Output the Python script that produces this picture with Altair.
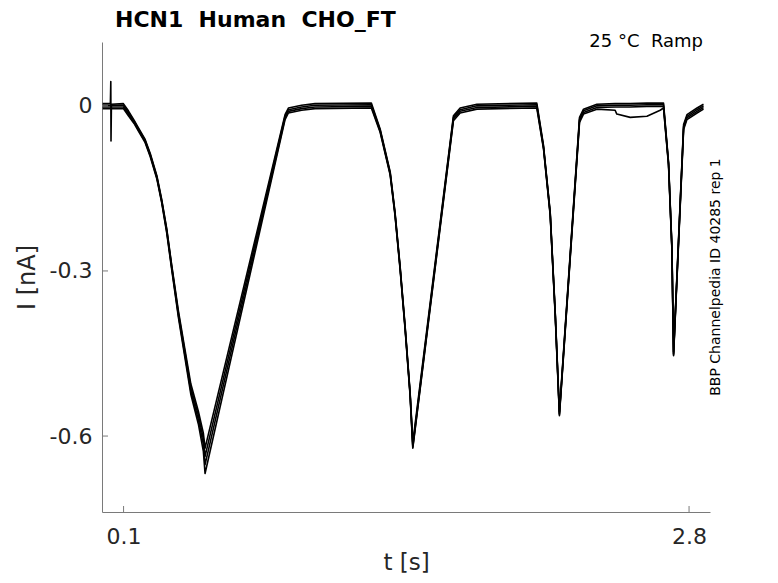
import altair as alt
import pandas as pd

# ---- data (time in s, current in nA) ----
T = [0.000, 0.037, 0.039, 0.040, 0.042, 0.099, 0.123, 0.150, 0.171, 0.203,
     0.227, 0.259, 0.282, 0.306, 0.330, 0.362, 0.394, 0.421, 0.457, 0.481,
     0.489, 0.871, 0.887, 0.950, 1.014, 1.283, 1.325, 1.373, 1.396, 1.420,
     1.444, 1.468, 1.481, 1.675, 1.707, 1.787, 2.073, 2.105, 2.137, 2.161,
     2.181, 2.277, 2.296, 2.360, 2.447, 2.455, 2.519, 2.599, 2.662, 2.678,
     2.702, 2.718, 2.726, 2.774, 2.790, 2.838, 2.869]

sweep_a = [0.004, 0.004, 0.044, -0.064, 0.003, 0.004, -0.009, -0.026, -0.040, -0.061,
           -0.086, -0.127, -0.170, -0.223, -0.290, -0.373, -0.445, -0.505, -0.555, -0.595,
           -0.622, -0.016, -0.004, 0.001, 0.004, 0.005, -0.042, -0.120, -0.193, -0.290,
           -0.399, -0.520, -0.612, -0.018, -0.004, 0.003, 0.005, -0.072, -0.193, -0.375,
           -0.556, -0.021, -0.006, 0.003, 0.004, 0.004, 0.004, 0.005, 0.005, 0.005,
           -0.102, -0.254, -0.447, -0.034, -0.016, -0.004, 0.003]

sweep_b = [0.001, 0.001, 0.001, 0.001, 0.001, 0.001, -0.012, -0.028, -0.042, -0.063,
           -0.088, -0.129, -0.172, -0.225, -0.292, -0.377, -0.450, -0.512, -0.562, -0.605,
           -0.637, -0.019, -0.007, -0.002, 0.001, 0.002, -0.044, -0.122, -0.195, -0.292,
           -0.401, -0.522, -0.617, -0.021, -0.007, 0.000, 0.002, -0.074, -0.195, -0.377,
           -0.559, -0.024, -0.009, 0.000, 0.001, 0.001, 0.001, 0.002, 0.002, 0.002,
           -0.104, -0.256, -0.450, -0.037, -0.019, -0.007, 0.000]

sweep_c = [-0.002, -0.002, -0.002, -0.002, -0.002, -0.002, -0.015, -0.030, -0.044, -0.065,
           -0.090, -0.131, -0.174, -0.228, -0.295, -0.381, -0.455, -0.518, -0.570, -0.615,
           -0.652, -0.022, -0.010, -0.005, -0.002, -0.001, -0.046, -0.124, -0.197, -0.294,
           -0.403, -0.524, -0.620, -0.024, -0.010, -0.003, -0.001, -0.076, -0.197, -0.379,
           -0.561, -0.027, -0.012, -0.003, -0.002, -0.002, -0.002, -0.001, -0.001, -0.001,
           -0.106, -0.258, -0.452, -0.040, -0.022, -0.010, -0.003]

sweep_d = [-0.005, -0.005, -0.005, -0.005, -0.005, -0.005, -0.018, -0.032, -0.046, -0.067,
           -0.092, -0.133, -0.176, -0.231, -0.298, -0.385, -0.460, -0.524, -0.578, -0.628,
           -0.668, -0.025, -0.013, -0.008, -0.005, -0.004, -0.048, -0.126, -0.199, -0.296,
           -0.405, -0.526, -0.622, -0.027, -0.013, -0.006, -0.004, -0.078, -0.199, -0.381,
           -0.563, -0.030, -0.015, -0.006, -0.008, -0.015, -0.021, -0.019, -0.008, -0.004,
           -0.108, -0.260, -0.454, -0.043, -0.025, -0.013, -0.006]

sweeps = {"1": sweep_a, "2": sweep_b, "3": sweep_c, "4": sweep_d}

y_ticks = [0, -0.3, -0.6]
x_ticks = [0.1, 2.8]

NB = "\u00a0"
title_text = "HCN1" + NB + " Human" + NB + " CHO_FT"
cond_text = "25 °C" + NB + " Ramp"
id_text = "BBP Channelpedia ID 40285 rep 1"

# ---- build table ----
rows = []
for name, vals in sweeps.items():
    for t, v in zip(T, vals):
        rows.append({"t": t, "I": v, "sweep": name})
df = pd.DataFrame(rows)

FONT = "DejaVu Sans"
AXIS_GRAY = "#7a7a7a"
TXT = "#262626"

xscale = alt.Scale(domain=[-0.003, 2.9], nice=False, zero=False)
yscale = alt.Scale(domain=[-0.738, 0.116], nice=False, zero=False)

xaxis = alt.Axis(values=x_ticks, title="t [s]",
                 labelExpr="format(datum.value, '.1f')")
yaxis = alt.Axis(values=y_ticks, title="I [nA]",
                 labelExpr="datum.value == 0 ? '0' : '-' + format(abs(datum.value), '.1f')")

lines = alt.Chart(df).mark_line(color="black", strokeWidth=1.6, clip=True,
                                strokeJoin="round").encode(
    x=alt.X("t:Q", scale=xscale, axis=xaxis),
    y=alt.Y("I:Q", scale=yscale, axis=yaxis),
    detail="sweep:N",
)

ytick_df = pd.DataFrame({"I": y_ticks})
yticks = alt.Chart(ytick_df).mark_rule(color=AXIS_GRAY, strokeWidth=1).encode(
    y=alt.Y("I:Q", scale=yscale, axis=yaxis),
    x=alt.value(0), x2=alt.value(6),
)

xtick_df = pd.DataFrame({"t": x_ticks})
xticks = alt.Chart(xtick_df).mark_rule(color=AXIS_GRAY, strokeWidth=1).encode(
    x=alt.X("t:Q", scale=xscale, axis=xaxis),
    y=alt.value(470), y2=alt.value(464),
)

title = alt.Chart(pd.DataFrame({"label": [title_text]})).mark_text(
    align="left", baseline="alphabetic", font=FONT, fontSize=22,
    fontWeight="bold", color="black"
).encode(text="label:N", x=alt.value(13), y=alt.value(-15))

cond = alt.Chart(pd.DataFrame({"label": [cond_text]})).mark_text(
    align="right", baseline="alphabetic", font=FONT, fontSize=18, color="black"
).encode(text="label:N", x=alt.value(601), y=alt.value(5))

ident = alt.Chart(pd.DataFrame({"label": [id_text]})).mark_text(
    align="center", baseline="middle", angle=270, font=FONT, fontSize=14, color="black"
).encode(text="label:N", x=alt.value(614), y=alt.value(235))

chart = alt.layer(lines, yticks, xticks, title, cond, ident).properties(
    width=608, height=470,
    autosize=alt.AutoSizeParams(type="none"),
    padding={"left": 94, "top": 34, "right": 60, "bottom": 63},
).configure_view(stroke=None).configure_axis(
    grid=False, ticks=False, domainColor=AXIS_GRAY, domainWidth=1,
    labelFont=FONT, labelFontSize=22, labelColor=TXT,
    titleFont=FONT, titleFontSize=24, titleFontWeight="normal", titleColor=TXT,
).configure_axisX(labelPadding=14, titlePadding=4, titleFontSize=23).configure_axisY(
    labelPadding=10, titlePadding=10
)

chart.save("out.html", embed_options={"renderer": "svg", "actions": False})
